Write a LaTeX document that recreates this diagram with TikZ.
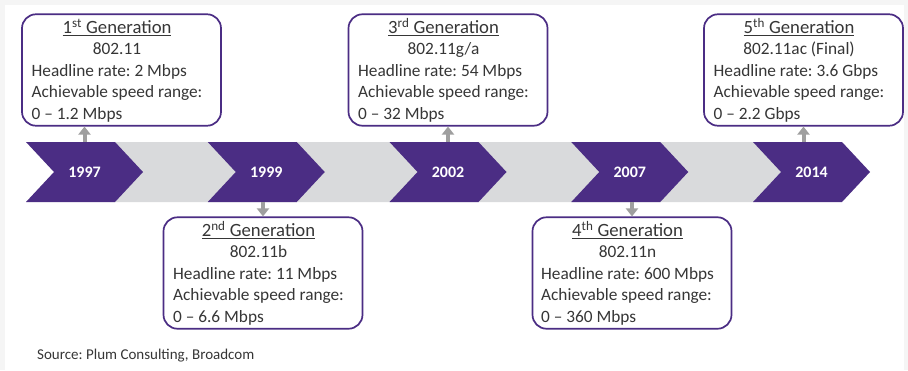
\documentclass[tikz,border=0pt]{standalone}
\usepackage{fontspec}
\setmainfont{Carlito}
\usetikzlibrary{arrows.meta}
\definecolor{wifipurple}{HTML}{4B2D84}
\definecolor{bandgray}{HTML}{D9DADC}
\definecolor{textgray}{HTML}{363636}
\tikzset{
	genbox/.style={draw=wifipurple, line width=1.7pt, rounded corners=14pt, fill=white,
		minimum width=199pt, minimum height=111pt, inner sep=0pt, text=textgray},
	yearlbl/.style={text=white, font=\fontsize{16}{18}\selectfont\bfseries,
		minimum width=60pt, minimum height=60pt, inner sep=0pt},
	genarrow/.style={draw=gray!75, line width=4pt, -{Triangle[width=12pt,length=8pt]}}
}
\newcommand{\gentext}[5]{\fontsize{17.3}{21.5}\selectfont\frenchspacing
	\begin{tabular}{@{}l@{\hspace{9pt}}}
		\multicolumn{1}{@{}c@{\hspace{9pt}}}{\rule{0pt}{19pt}\fontsize{18.7}{21.5}\selectfont\underline{#1\textsuperscript{#2} Generation}}\\
		\multicolumn{1}{@{}c@{\hspace{9pt}}}{#3}\\
		Headline rate: #4\\
		Achievable speed range:\\
		#5
	\end{tabular}}

\begin{document}
\begin{tikzpicture}[x=1pt,y=-1pt]
	\useasboundingbox (0,0) rectangle (908,370);
	\fill[gray!8] (0,0) rectangle (908,370);
	\fill[white] (5,5) rectangle (904,370);

	% timeline band
	\fill[bandgray] (110,142) -- (753,142) -- (781,172) -- (753,202) -- (110,202) -- cycle;
	\foreach \yr [count=\i from 0] in {1997,1999,2002,2007,2014} {
		\pgfmathsetmacro\lx{26+181.75*\i}
		\fill[wifipurple] (\lx,142) -- ++(89,0) -- ++(28,30) -- ++(-28,30) -- ++(-89,0) -- ++(28,-30) -- cycle;
		\node[yearlbl] (y\yr) at (\lx+58.5,172) {\yr};
	}

	% generation boxes
	\node[genbox] (gen1) at (121.5,70) {\gentext{1}{st}{802.11}{2 Mbps}{0 -- 1.2 Mbps}};
	\node[genbox] (gen2) at (263,273) {\gentext{2}{nd}{802.11b}{11 Mbps}{0 -- 6.6 Mbps}};
	\node[genbox] (gen3) at (448,70) {\gentext{3}{rd}{802.11g/a}{54 Mbps}{0 -- 32 Mbps}};
	\node[genbox] (gen4) at (632,273) {\gentext{4}{th}{802.11n}{600 Mbps}{0 -- 360 Mbps}};
	\node[genbox] (gen5) at (803.5,70) {\gentext{5}{th}{802.11ac (Final)}{3.6 Gbps}{0 -- 2.2 Gbps}};

	\draw[genarrow] (y1997.north) -- (y1997.north |- gen1.south);
	\draw[genarrow] (gen2.north |- y1999.south) -- (gen2.north);
	\draw[genarrow] (gen3.south |- y2002.north) -- (gen3.south);
	\draw[genarrow] (gen4.north |- y2007.south) -- (gen4.north);
	\draw[genarrow] (gen5.south |- y2014.north) -- (gen5.south);

	\node[anchor=west, text=textgray, font=\fontsize{15}{18}\selectfont\frenchspacing, inner sep=0pt] (src) at (37,356) {Source: Plum Consulting, Broadcom};
\end{tikzpicture}
\end{document}
